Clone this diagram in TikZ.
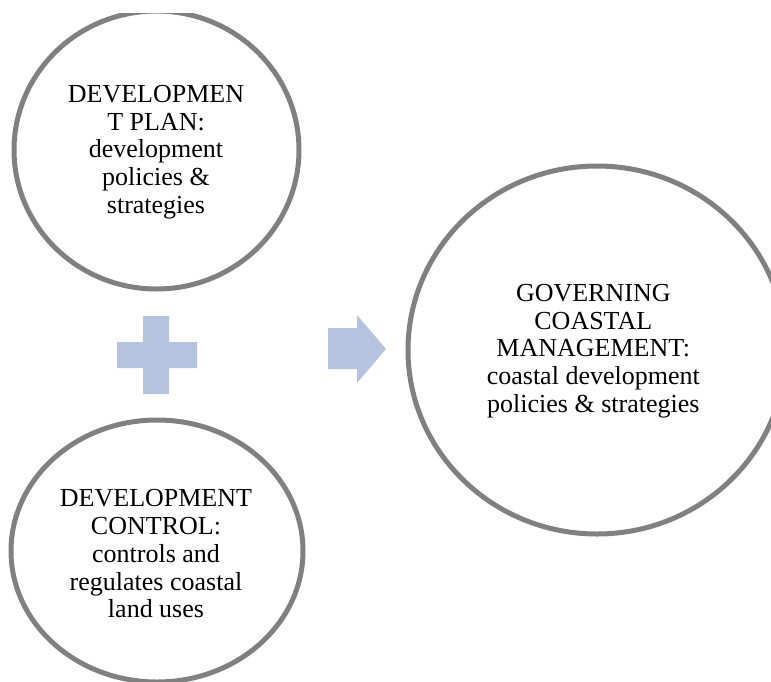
\documentclass[tikz,border=0pt]{standalone}
\usepackage{fontspec}
\setmainfont{Liberation Serif}
\usetikzlibrary{shapes.geometric}
\definecolor{ringgray}{RGB}{128,128,128}
\definecolor{signblue}{RGB}{180,196,222}
\begin{document}
\begin{tikzpicture}[x=1pt,y=-1pt,
  ring/.style={ellipse, draw=ringgray, line width=5pt, inner sep=0pt},
  ringtext/.style={align=center, font=\fontsize{26}{27.7}\selectfont, inner sep=0pt, anchor=north},
  sign/.style={fill=signblue, draw=none}]
\useasboundingbox (0,0) rectangle (771,681);
\begin{scope}
\clip (0,13) rectangle (771,681);
\node[ring, minimum width=285pt, minimum height=278pt] (plan) at (156.5,150) {};
\node[ring, minimum width=292pt, minimum height=262pt] (control) at (157,551) {};
\node[ring, minimum width=378pt, minimum height=368pt] (govern) at (597,350) {};
\end{scope}
\node[ringtext] (plantext) at (156,85.1) {DEVELOPMEN\\T PLAN:\\development\\policies \&\\strategies};
\node[ringtext] (controltext) at (156,489.5) {DEVELOPMENT\\CONTROL:\\controls and\\regulates coastal\\land uses};
\node[ringtext] (governtext) at (593.3,284.1) {GOVERNING\\COASTAL\\MANAGEMENT:\\coastal development\\policies \& strategies};
% plus sign
\fill[sign] (143,316) -- (169,316) -- (169,342) -- (197,342) -- (197,368) -- (169,368)
  -- (169,394) -- (143,394) -- (143,368) -- (117,368) -- (117,342) -- (143,342) -- cycle;
% arrow
\fill[sign] (328,328) -- (357,328) -- (357,315) -- (386,349) -- (357,383) -- (357,369) -- (328,369) -- cycle;
\end{tikzpicture}
\end{document}
